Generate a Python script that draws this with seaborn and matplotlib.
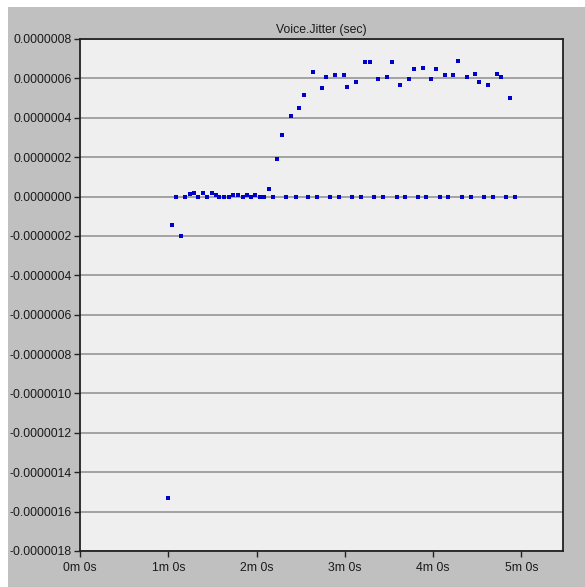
import matplotlib
matplotlib.use("Agg")
import matplotlib.pyplot as plt
from matplotlib.patches import Rectangle
from matplotlib.ticker import FuncFormatter, FixedLocator
import seaborn as sns
import pandas as pd

# Sample times (seconds) and jitter values (seconds)
early_t = [60.0, 62.3, 68.4]
early_v = [-1.53e-6, -1.45e-7, -2.02e-7]

flat_t = [65.2, 71.6, 74.8, 77.6, 80.4, 83.4, 86.5, 89.5, 92.4, 94.7, 97.9,
          101.0, 104.2, 107.3, 110.6, 113.3, 116.2, 119.1, 122.3, 125.2,
          128.4, 131.2, 140.2, 146.6, 155.1, 161.3, 169.9, 176.0, 184.6,
          190.9, 199.6, 205.9, 215.2, 220.6, 229.9, 235.3, 244.6, 250.3,
          259.6, 265.7, 274.3, 280.6, 289.3, 295.6]
flat_v = [0.0, 0.0, 1.2e-8, 2.0e-8, 0.0, 1.9e-8, 0.0, 1.9e-8, 0.7e-8, 0.0,
          0.0, 0.0, 0.7e-8, 0.7e-8, 0.0, 0.7e-8, 0.0, 0.7e-8, 0.0, 0.0,
          3.9e-8, 0.0, 0.0, 0.0, 0.0, 0.0, 0.0, 0.0, 0.0, 0.0, 0.0, 0.0,
          0.0, 0.0, 0.0, 0.0, 0.0, 0.0, 0.0, 0.0, 0.0, 0.0, 0.0, 0.0]

rise_t = [134.0, 137.0, 143.4, 149.0, 152.0, 158.1, 164.5, 167.0, 173.0,
          179.4, 181.6, 187.7, 193.9, 197.0, 202.7, 208.8, 212.0, 217.4,
          223.7, 226.7, 233.0, 238.5, 241.7, 247.8, 253.4, 256.6, 262.7,
          268.2, 271.3, 277.4, 283.6, 286.1, 292.4]
rise_v = [1.89e-7, 3.14e-7, 4.07e-7, 4.51e-7, 5.14e-7, 6.32e-7, 5.53e-7,
          6.08e-7, 6.16e-7, 6.16e-7, 5.58e-7, 5.83e-7, 6.83e-7, 6.83e-7,
          5.95e-7, 6.08e-7, 6.83e-7, 5.65e-7, 5.95e-7, 6.46e-7, 6.53e-7,
          5.95e-7, 6.46e-7, 6.16e-7, 6.16e-7, 6.90e-7, 6.08e-7, 6.21e-7,
          5.83e-7, 5.65e-7, 6.22e-7, 6.08e-7, 5.02e-7]

y_ticks = [0.0000008 - 0.0000002 * i for i in range(14)]
x_ticks = [0, 60, 120, 180, 240, 300]

df = pd.DataFrame({
    "time": early_t + flat_t + rise_t,
    "jitter": early_v + flat_v + rise_v,
})

sns.set_theme(style="white")
plt.rcParams["font.family"] = ["Liberation Sans", "DejaVu Sans"]

W, H = 585, 587
fig = plt.figure(figsize=(W / 100, H / 100), dpi=100, facecolor="#c0c0c0")
# thin white margin along the top and left edges
fig.patches.append(Rectangle((0, 1 - 7 / H), 1, 7 / H, transform=fig.transFigure,
                             facecolor="white", edgecolor="none", zorder=-5))
fig.patches.append(Rectangle((0, 0), 8 / W, 1, transform=fig.transFigure,
                             facecolor="white", edgecolor="none", zorder=-5))
ax = fig.add_axes([80 / W, 1 - 551 / H, (563 - 80) / W, (551 - 39) / H])
ax.set_facecolor("#efefef")

sns.scatterplot(data=df, x="time", y="jitter", ax=ax, marker="s", s=11,
                color="#0000cc", linewidth=0, zorder=3)

ax.set_xlim(0, 328.2)
ax.set_ylim(-0.0000018, 0.0000008)
ax.yaxis.set_major_locator(FixedLocator(y_ticks))
ax.yaxis.set_major_formatter(FuncFormatter(lambda v, p: f"{v:.7f}" if abs(v) > 1e-12 else "0.0000000"))
ax.xaxis.set_major_locator(FixedLocator(x_ticks))
ax.xaxis.set_major_formatter(FuncFormatter(lambda v, p: f"{int(round(v)) // 60}m {int(round(v)) % 60}s"))

ax.grid(axis="y", color="#8e8e8e", linewidth=1.1)
ax.grid(axis="x", visible=False)
ax.set_axisbelow(True)
for sp in ax.spines.values():
    sp.set_color("#222222")
    sp.set_linewidth(1.3)

ax.tick_params(axis="both", which="major", direction="out", length=4, width=1,
               color="#222222", labelsize=8.8, labelcolor="#1a1a1a", pad=2,
               left=True, bottom=True)
ax.tick_params(axis="x", pad=4)
ax.set_xlabel("")
ax.set_ylabel("")
ax.set_title("Voice.Jitter (sec)", fontsize=8.8, color="#1a1a1a", pad=4)

fig.savefig("out.png", dpi=100, facecolor=fig.get_facecolor())
